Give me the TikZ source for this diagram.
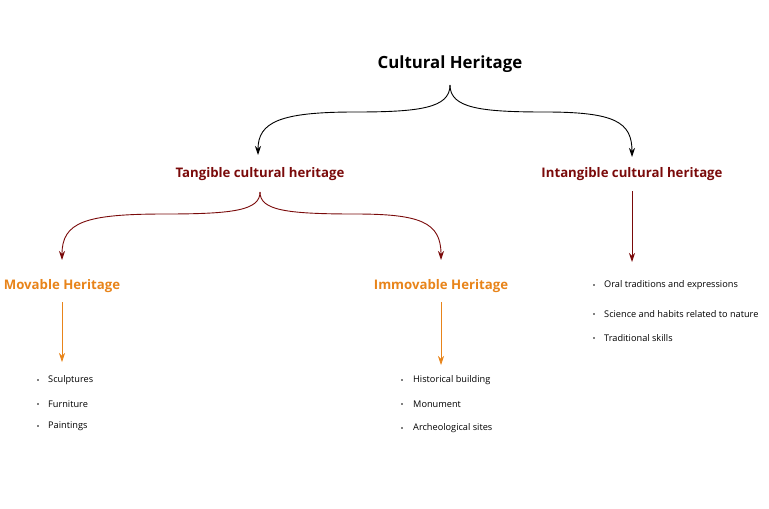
\documentclass[tikz,border=0pt]{standalone}
\usepackage{fontspec}
\setmainfont{Open Sans}
\usetikzlibrary{arrows.meta}
\definecolor{dred}{HTML}{7A0A0A}
\definecolor{orng}{HTML}{E8841A}
\tikzset{
 lvlone/.style={font=\bfseries\fontsize{16.8}{19}\selectfont,text=black},
 lvltwo/.style={font=\bfseries\fontsize{13.2}{15}\selectfont,text=dred},
 lvlthree/.style={font=\bfseries\fontsize{13.2}{15}\selectfont,text=orng},
 item/.style={font=\fontsize{9.2}{11}\selectfont,anchor=west,inner sep=0pt},
 dot/.style={circle,fill=black,inner sep=0pt,minimum size=1.8pt},
 arr/.style={-{Stealth[length=9pt,width=6pt]},line width=0.9pt}
}
\begin{document}
\begin{tikzpicture}[x=1pt,y=-1pt]
\useasboundingbox (0,0) rectangle (769,509);
\node[lvlone] (ch) at (450,64) {Cultural Heritage};
\node[lvltwo] (tan) at (260,174) {Tangible cultural heritage};
\node[lvltwo] (intan) at (632,174) {Intangible cultural heritage};
\node[lvlthree] (mov) at (62,286) {Movable Heritage};
\node[lvlthree] (imm) at (441,286) {Immovable Heritage};
\coordinate (chb) at (450,85);
\draw[arr] (chb) .. controls (450,108) and (420,112) .. (355,112) .. controls (280,112) and (258,122) .. (258,155);
\draw[arr] (chb) .. controls (450,108) and (480,112) .. (545,112) .. controls (615,112) and (632,122) .. (632,157);
\coordinate (tb) at (260,192);
\draw[arr,dred] (tb) .. controls (260,210) and (235,214) .. (165,214) .. controls (85,214) and (62,222) .. (62,260);
\draw[arr,dred] (tb) .. controls (260,210) and (285,214) .. (355,214) .. controls (420,214) and (441,222) .. (441,260);
\coordinate (ib) at (632,191);
\draw[arr,dred] (ib) -- (632,262);
\coordinate (mb) at (62,302);
\draw[arr,orng,line width=0.7pt] (mb) -- (62,362);
\coordinate (ob) at (441,302);
\draw[arr,orng,line width=0.7pt] (ob) -- (441,365);
\foreach \t/\y [count=\i] in {Sculptures/380,Furniture/404,Paintings/426}{
 \node[dot] (ld\i) at (38,\y) {}; \node[item] (lt\i) at (48,\y) {\t};}
\foreach \t/\y [count=\i] in {Historical building/380,Monument/404,Archeological sites/428}{
 \node[dot] (md\i) at (402,\y) {}; \node[item] (mt\i) at (413,\y) {\t};}
\foreach \t/\y [count=\i] in {Oral traditions and expressions/285,Science and habits related to nature/314,Traditional skills/338}{
 \node[dot] (rd\i) at (594,\y) {}; \node[item] (rt\i) at (604,\y) {\t};}
\end{tikzpicture}
\end{document}
